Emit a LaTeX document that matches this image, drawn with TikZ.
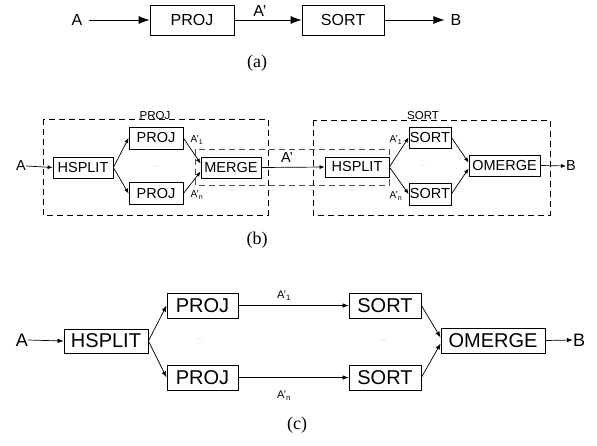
\documentclass[tikz,border=0pt]{standalone}
\usepackage{fontspec}
\setmainfont{Liberation Sans}
\newfontfamily\capfont{Liberation Serif}
\usetikzlibrary{arrows.meta,calc}
\begin{document}
\begin{tikzpicture}[x=1pt,y=-1pt,
  box/.style={draw, inner sep=0pt, line width=0.8pt},
  fa/.style={font=\fontsize{16}{16}\selectfont},
  fb/.style={font=\fontsize{14.5}{14.5}\selectfont},
  fc/.style={font=\fontsize{20}{20}\selectfont},
  lab/.style={inner sep=0pt},
  bigarr/.style={line width=0.8pt, -{Latex[length=11pt,width=8pt]}},
  smarr/.style={line width=0.7pt, -{Latex[length=5pt,width=4pt]}},
  midarr/.style={line width=0.7pt, -{Latex[length=6pt,width=4.5pt]}},
  grp/.style={draw, dash pattern=on 6pt off 4pt, line width=0.8pt},
  redgrp/.style={draw=red, dash pattern=on 6pt off 4pt, line width=1pt},
  dots/.style={text=gray, font=\fontsize{5}{5}\selectfont, inner sep=0pt},
  subcap/.style={font=\capfont\fontsize{18}{18}\selectfont, inner sep=0pt}
]
\useasboundingbox (0,0) rectangle (597,445);

% ---------- (a)
\node[lab,fa] (Aa) at (77,20) {A};
\node[box,fa,minimum width=84pt,minimum height=30pt] (PRa) at (192,20) {PROJ};
\node[box,fa,minimum width=82pt,minimum height=30pt] (SOa) at (343,20) {SORT};
\node[lab,fa] (Ba) at (456,20) {B};
\node[lab,fa] (Apa) at (260,11) {A'};
\draw[bigarr] ([xshift=6pt]Aa.east) -- (PRa.west);
\draw[bigarr] (PRa.east) -- (SOa.west);
\draw[bigarr] (SOa.east) -- ([xshift=-6pt]Ba.west);
\node[subcap] (capa) at (257,63) {(a)};

% ---------- (b)
\draw[grp] (43,119) rectangle (268,215);
\draw[grp] (313,120) rectangle (550,215);
\draw[redgrp] (195,149) rectangle (389,185);
\node[lab,font=\fontsize{11.5}{11.5}\selectfont,anchor=base] (lpr) at (155,119) {PROJ};
\node[lab,font=\fontsize{11.5}{11.5}\selectfont,anchor=base] (lso) at (423,119) {SORT};

\node[lab,fb] (Ab) at (21,166) {A};
\node[box,fb,minimum width=60pt,minimum height=21pt] (HSb1) at (83,167.5) {HSPLIT};
\node[box,fb,minimum width=54pt,minimum height=22pt] (PRb1) at (156,138) {PROJ};
\node[box,fb,minimum width=54pt,minimum height=22pt] (PRb2) at (156,193.5) {PROJ};
\node[box,fb,minimum width=60pt,minimum height=21pt] (ME) at (231,167.5) {MERGE};
\node[box,fb,minimum width=64pt,minimum height=20pt] (HSb2) at (357,167) {HSPLIT};
\node[box,fb,minimum width=42pt,minimum height=21pt] (SOb1) at (430,137.5) {SORT};
\node[box,fb,minimum width=42pt,minimum height=22pt] (SOb2) at (430,194) {SORT};
\node[box,fb,minimum width=71pt,minimum height=21pt] (OMb) at (504.5,165.5) {OMERGE};
\node[lab,fb] (Bb) at (571,166) {B};
\node[dots] (d1) at (155,166) {...};
\node[dots] (d2) at (423,166) {...};

\node[lab,font=\fontsize{10}{10}\selectfont] (l1) at (197,140) {A'\textsubscript{1}};
\node[lab,font=\fontsize{10}{10}\selectfont] (l2) at (197,195) {A'\textsubscript{n}};
\node[lab,font=\fontsize{10}{10}\selectfont] (l3) at (396,140) {A'\textsubscript{1}};
\node[lab,font=\fontsize{10}{10}\selectfont] (l4) at (396,196) {A'\textsubscript{n}};
\node[lab,fb] (Apb) at (287,158) {A'};

\draw[smarr] (Ab.east) -- (HSb1.west);
\draw[smarr] (HSb1.east) -- (PRb1.west);
\draw[smarr] (HSb1.east) -- (PRb2.west);
\draw[smarr] (PRb1.east) -- ($(ME.west)+(0,-4)$);
\draw[smarr] (PRb2.east) -- ($(ME.west)+(0,4)$);
\draw[smarr] (ME.east) -- (HSb2.west);
\draw[smarr] (HSb2.east) -- (SOb1.west);
\draw[smarr] (HSb2.east) -- (SOb2.west);
\draw[smarr] (SOb1.east) -- ($(OMb.west)+(0,-3)$);
\draw[smarr] (SOb2.east) -- ($(OMb.west)+(0,3)$);
\draw[smarr] (OMb.east) -- (Bb.west);
\node[subcap] (capb) at (257,240) {(b)};

% ---------- (c)
\node[lab,font=\fontsize{18}{18}\selectfont] (Ac) at (22,340) {A};
\node[box,fc,minimum width=84pt,minimum height=24pt] (HSc) at (106,341) {HSPLIT};
\node[box,fc,minimum width=71pt,minimum height=25pt] (PRc1) at (202.5,305.5) {PROJ};
\node[box,fc,minimum width=71pt,minimum height=25pt] (PRc2) at (202.5,377.5) {PROJ};
\node[box,fc,minimum width=72pt,minimum height=25pt] (SOc1) at (385,305.5) {SORT};
\node[box,fc,minimum width=72pt,minimum height=25pt] (SOc2) at (385,377.5) {SORT};
\node[box,fc,minimum width=104pt,minimum height=25pt] (OMc) at (493,340.5) {OMERGE};
\node[lab,font=\fontsize{18}{18}\selectfont] (Bc) at (579,340) {B};
\node[dots] (d3) at (200,339) {...};
\node[dots] (d4) at (384,340) {...};
\node[lab,font=\fontsize{11}{11}\selectfont] (l5) at (284,296) {A'\textsubscript{1}};
\node[lab,font=\fontsize{11}{11}\selectfont] (l6) at (284,396) {A'\textsubscript{n}};

\draw[midarr] (Ac.east) -- (HSc.west);
\draw[midarr] (HSc.east) -- (PRc1.west);
\draw[midarr] (HSc.east) -- (PRc2.west);
\draw[midarr] (PRc1.east) -- (SOc1.west);
\draw[midarr] (PRc2.east) -- (SOc2.west);
\draw[midarr] (SOc1.east) -- ($(OMc.west)+(0,-3)$);
\draw[midarr] (SOc2.east) -- ($(OMc.west)+(0,3)$);
\draw[midarr] (OMc.east) -- (Bc.west);
\node[subcap] (capc) at (297,425) {(c)};
\end{tikzpicture}
\end{document}
